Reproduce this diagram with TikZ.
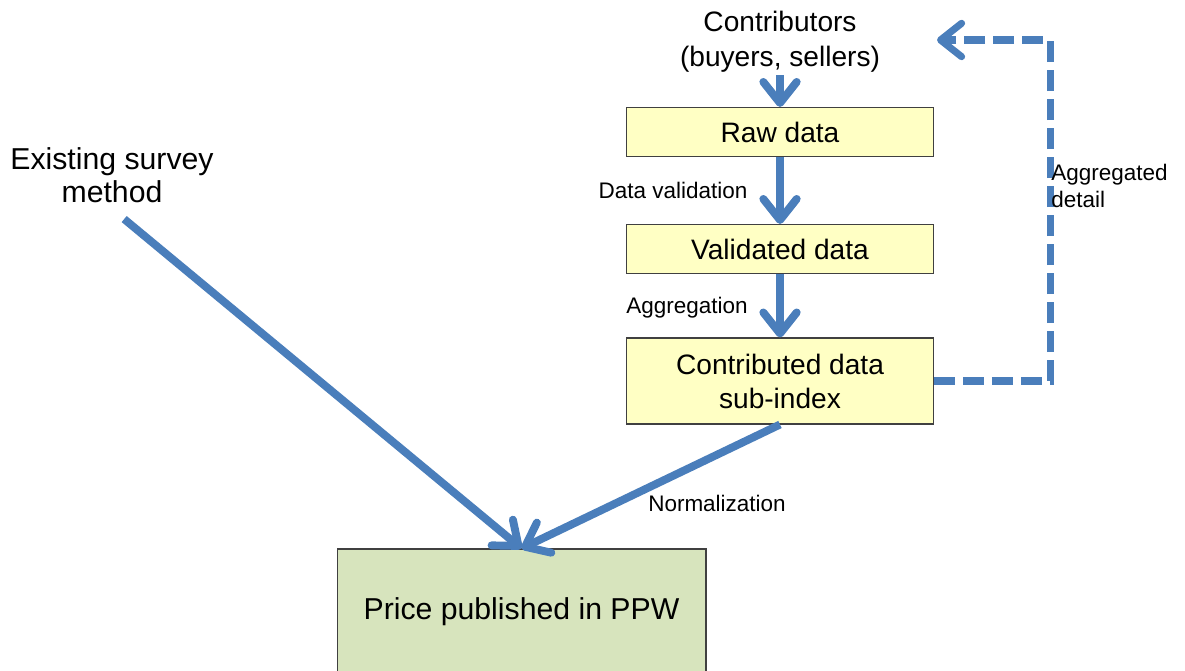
\documentclass[tikz,border=0pt]{standalone}
\usepackage{fontspec}
\setmainfont{Liberation Sans}
\definecolor{PPWblue}{HTML}{4A7EBB}
\definecolor{PPWyellow}{HTML}{FFFFC4}
\definecolor{PPWgreen}{HTML}{D7E4BD}
\definecolor{PPWedge}{HTML}{404040}
\usetikzlibrary{arrows.meta}

\tikzset{
  bigtext/.style={font=\fontsize{16pt}{20pt}\selectfont, align=center},
  smalltext/.style={font=\fontsize{12.8pt}{15.3pt}\selectfont},
  databox/.style={bigtext, draw=PPWedge, line width=0.6pt, fill=PPWyellow,
     minimum width=6.14cm, minimum height=0.98cm},
  flow/.style={PPWblue, line width=4.5pt,
     -{Straight Barb[length=12pt, width=19pt, line cap=round, line join=round]}},
  feedback/.style={flow, line width=4pt, dash pattern=on 12pt off 4.5pt}
}

\begin{document}
\begin{tikzpicture}[x=0.02cm, y=-0.02cm]
            \useasboundingbox (0,0) rectangle (1185,671);
            % Sources
            \node[bigtext] (contrib) at (780,42) {Contributors\\(buyers, sellers)};
            \node[bigtext, font=\fontsize{17.2pt}{19pt}\selectfont] (survey) at (112,175)
               {Existing survey\\method};
            % Data chain
            \node[databox] (raw) at (780,132) {Raw data};
            \node[databox] (valid) at (780,249) {Validated data};
            \node[databox, minimum height=1.72cm, font=\fontsize{16pt}{19.3pt}\selectfont]
               (sub) at (780,381) {Contributed data\\sub-index};
            % Output (runs past the bottom edge)
            \node[draw=PPWedge, line width=0.6pt, fill=PPWgreen, minimum width=7.38cm,
               minimum height=2.5cm, font=\fontsize{17.2pt}{20pt}\selectfont]
               (price) at (521.5,611.5) {Price published in PPW};
            % Arrows down the chain
            \draw[flow, shorten <=-2pt] (contrib.south) -- (raw.north);
            \draw[flow] (raw.south) -- (valid.north);
            \draw[flow] (valid.south) -- (sub.north);
            \node[smalltext] (lblval) at (673,190) {Data validation};
            \node[smalltext] (lblagg) at (687,308) {Aggregation};
            % Into the published price
            \draw[flow, shorten <=9pt] (survey.south) -- (price.north);
            \draw[flow] (sub.south) -- (price.north);
            \node[smalltext] (lblnorm) at (717,503) {Normalization};
            % Feedback to contributors
            \coordinate (fbcorner) at (1050,40);
            \coordinate (fbend) at (937,40);
            \draw[feedback] (sub.east) -| (fbcorner) -- (fbend);
            \node[smalltext, anchor=west, align=left, inner sep=0pt] (lbldetail)
               at (1051,186) {Aggregated\\detail};
\end{tikzpicture}
\end{document}
